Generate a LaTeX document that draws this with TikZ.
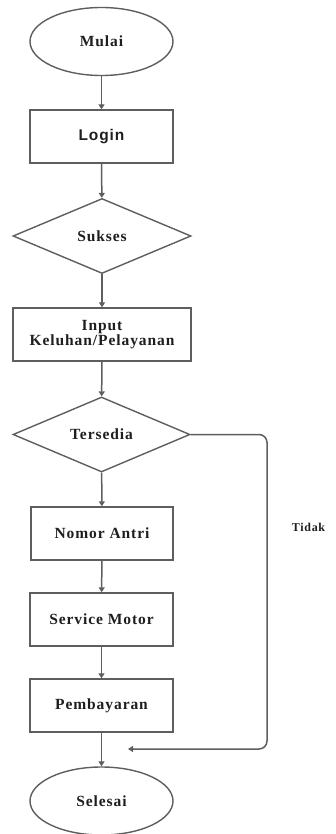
\documentclass[tikz,border=0pt]{standalone}
\usepackage{fontspec}
\setmainfont{Liberation Serif}
\newfontfamily\lblfont[LetterSpace=6]{Liberation Serif}
\newfontfamily\lblsans[LetterSpace=6]{Liberation Sans}
\usetikzlibrary{shapes.geometric,arrows.meta}
\definecolor{edge}{HTML}{5E5E5E}
\definecolor{ink}{HTML}{1E1E1E}
\begin{document}
\begin{tikzpicture}[x=1pt,y=-1pt,
  every node/.style={draw=edge,line width=1.4pt,fill=white,inner sep=0pt,
    text=ink,font=\lblfont\fontsize{15.5}{17}\selectfont\bfseries,align=center},
  terminal/.style={ellipse,minimum width=143pt,minimum height=68pt},
  process/.style={rectangle,minimum height=53pt},
  decision/.style={diamond,minimum height=75pt},
  flow/.style={draw=edge,line width=1.5pt,-{Triangle[width=6pt,length=5pt]}}]
\useasboundingbox (0,0) rectangle (335,834);

\node[terminal] (mulai) at (101.5,41.5) {Mulai};
\node[process,minimum width=143pt,font=\lblsans\fontsize{15.5}{17}\selectfont\bfseries] (login) at (101.5,136.5) {Login};
\node[decision,minimum width=178pt] (sukses) at (102,236) {Sukses};
\node[process,minimum width=178pt] (input) at (102,334.5) {Input\\[-2pt]Keluhan/Pelayanan};
\node[decision,minimum width=177pt] (tersedia) at (101.5,434.5) {Tersedia};
\node[process,minimum width=142pt] (nomor) at (102,533.5) {Nomor Antri};
\node[process,minimum width=143pt] (service) at (101.5,619.5) {Service Motor};
\node[process,minimum width=143pt] (bayar) at (101.5,705.5) {Pembayaran};
\node[terminal] (selesai) at (101.5,801) {Selesai};

\node[draw=none,fill=none,font=\lblfont\fontsize{12}{14}\selectfont\bfseries] (tidak) at (308.5,527) {Tidak};

\coordinate (loopend) at (128,749);

\draw[flow] (mulai) -- (login);
\draw[flow] (login) -- (sukses);
\draw[flow] (sukses) -- (input);
\draw[flow] (input) -- (tersedia);
\draw[flow] (tersedia) -- (nomor);
\draw[flow] (nomor) -- (service);
\draw[flow] (service) -- (bayar);
\draw[flow] (bayar) -- (selesai);
\draw[flow,rounded corners=8pt] (tersedia.east) -- (267,434.5) -- (267,749) -- (loopend);
\end{tikzpicture}
\end{document}
